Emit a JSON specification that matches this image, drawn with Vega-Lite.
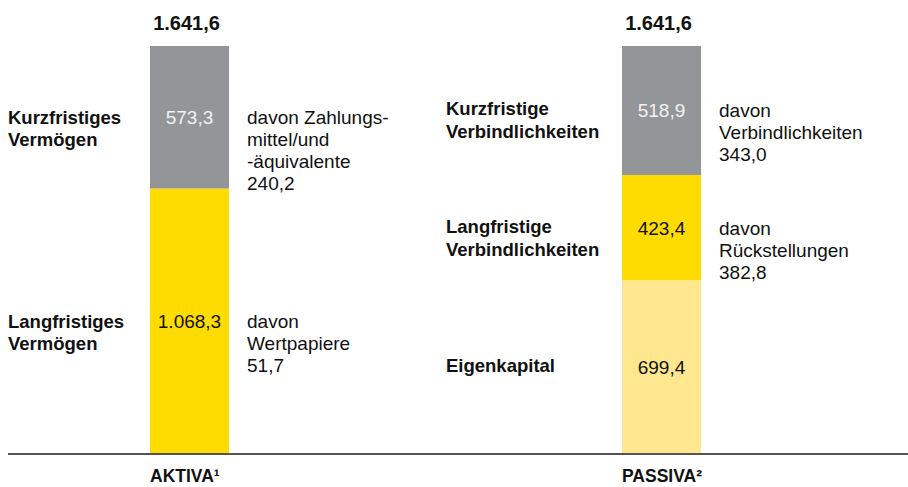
{
  "$schema": "https://vega.github.io/schema/vega-lite/v6.json",
  "width": 900,
  "height": 408,
  "autosize": {"type": "none"},
  "padding": {"left": 8, "right": 0, "top": 46, "bottom": 33},
  "background": "white",
  "config": {
    "view": {"stroke": null},
    "font": "Liberation Sans",
    "locale": {"number": {"decimal": ",", "thousands": ".", "grouping": [3], "currency": ["", " €"]}},
    "axisX": {"domain": false, "ticks": false, "tickSize": 0, "grid": false, "labelAngle": 0, "labelFontSize": 17.5, "labelFontWeight": "bold", "labelColor": "#111111", "labelAlign": "left", "labelOffset": -40, "labelPadding": 22, "labelBaseline": "middle", "labelFont": "Liberation Sans"}
  },
  "data": {
    "values": [
      {"side": "AKTIVA¹", "type": "lang", "order": 1, "name": "Langfristiges\nVermögen", "value": 1068.3, "note": "davon\nWertpapiere\n51,7"},
      {"side": "AKTIVA¹", "type": "kurz", "order": 2, "name": "Kurzfristiges\nVermögen", "value": 573.3, "note": "davon Zahlungs-\nmittel/und\n-äquivalente\n240,2"},
      {"side": "PASSIVA²", "type": "eigen", "order": 1, "name": "Eigenkapital", "value": 699.4, "note": null},
      {"side": "PASSIVA²", "type": "lang", "order": 2, "name": "Langfristige\nVerbindlichkeiten", "value": 423.4, "note": "davon\nRückstellungen\n382,8"},
      {"side": "PASSIVA²", "type": "kurz", "order": 3, "name": "Kurzfristige\nVerbindlichkeiten", "value": 518.9, "note": "davon\nVerbindlichkeiten\n343,0"}
    ]
  },
  "transform": [
    {"stack": "value", "groupby": ["side"], "sort": [{"field": "order", "order": "ascending"}], "as": ["v0", "v1"]}
  ],
  "layer": [
    {
      "mark": {"type": "bar", "size": 79},
      "encoding": {
        "x": {"field": "side", "type": "nominal", "title": null, "scale": {"type": "point", "padding": 0, "domain": ["AKTIVA¹", "PASSIVA²"], "range": [181.5, 653.5]}},
        "y": {"field": "v0", "type": "quantitative", "axis": null, "scale": {"domain": [0, 1641.7], "nice": false, "zero": true}},
        "y2": {"field": "v1"},
        "color": {"field": "type", "type": "nominal", "legend": null, "scale": {"domain": ["kurz", "lang", "eigen"], "range": ["#949599", "#FFDC00", "#FFE78F"]}}
      }
    },
    {
      "mark": {"type": "rule", "color": "#555555", "strokeWidth": 1.5},
      "encoding": {
        "y": {"datum": 0, "type": "quantitative", "axis": null, "scale": {"domain": [0, 1641.7], "nice": false, "zero": true}}
      }
    },
    {
      "transform": [
        {"fold": ["v0", "v1"], "as": ["k", "pos"]},
        {"aggregate": [{"op": "mean", "field": "pos", "as": "mid"}], "groupby": ["side", "type", "value"]}
      ],
      "mark": {"type": "text", "fontSize": 19, "align": "center", "baseline": "alphabetic", "dy": 7},
      "encoding": {
        "x": {"field": "side", "type": "nominal", "title": null, "scale": {"type": "point", "padding": 0, "domain": ["AKTIVA¹", "PASSIVA²"], "range": [181.5, 653.5]}},
        "y": {"field": "mid", "type": "quantitative", "axis": null, "scale": {"domain": [0, 1641.7], "nice": false, "zero": true}},
        "text": {"field": "value", "type": "quantitative", "format": ",.1f"},
        "color": {"condition": {"test": "datum.type === 'kurz'", "value": "#F2F2F2"}, "value": "#111111"}
      }
    },
    {
      "transform": [
        {"filter": "datum.note != null"},
        {"fold": ["v0", "v1"], "as": ["k", "pos"]},
        {"aggregate": [{"op": "mean", "field": "pos", "as": "mid"}], "groupby": ["side", "type", "note"]}
      ],
      "mark": {"type": "text", "fontSize": 19, "align": "left", "baseline": "alphabetic", "dx": 57.5, "dy": 7, "lineBreak": "\n", "lineHeight": 22, "color": "#111111"},
      "encoding": {
        "x": {"field": "side", "type": "nominal", "title": null, "scale": {"type": "point", "padding": 0, "domain": ["AKTIVA¹", "PASSIVA²"], "range": [181.5, 653.5]}},
        "y": {"field": "mid", "type": "quantitative", "axis": null, "scale": {"domain": [0, 1641.7], "nice": false, "zero": true}},
        "text": {"field": "note", "type": "nominal"}
      }
    },
    {
      "transform": [
        {"filter": {"field": "side", "equal": "AKTIVA¹"}},
        {"fold": ["v0", "v1"], "as": ["k", "pos"]},
        {"aggregate": [{"op": "mean", "field": "pos", "as": "mid"}], "groupby": ["side", "type", "name"]}
      ],
      "mark": {"type": "text", "fontSize": 18.5, "fontWeight": "bold", "align": "left", "baseline": "alphabetic", "dx": -181.5, "dy": 7, "lineBreak": "\n", "lineHeight": 22, "color": "#111111"},
      "encoding": {
        "x": {"field": "side", "type": "nominal", "title": null, "scale": {"type": "point", "padding": 0, "domain": ["AKTIVA¹", "PASSIVA²"], "range": [181.5, 653.5]}},
        "y": {"field": "mid", "type": "quantitative", "axis": null, "scale": {"domain": [0, 1641.7], "nice": false, "zero": true}},
        "text": {"field": "name", "type": "nominal"}
      }
    },
    {
      "transform": [
        {"filter": {"field": "side", "equal": "PASSIVA²"}},
        {"fold": ["v0", "v1"], "as": ["k", "pos"]},
        {"aggregate": [{"op": "mean", "field": "pos", "as": "mid"}], "groupby": ["side", "type", "name"]}
      ],
      "mark": {"type": "text", "fontSize": 18.5, "fontWeight": "bold", "align": "left", "baseline": "alphabetic", "dx": -215.5, "dy": 5, "lineBreak": "\n", "lineHeight": 23, "color": "#111111"},
      "encoding": {
        "x": {"field": "side", "type": "nominal", "title": null, "scale": {"type": "point", "padding": 0, "domain": ["AKTIVA¹", "PASSIVA²"], "range": [181.5, 653.5]}},
        "y": {"field": "mid", "type": "quantitative", "axis": null, "scale": {"domain": [0, 1641.7], "nice": false, "zero": true}},
        "text": {"field": "name", "type": "nominal"}
      }
    },
    {
      "data": {"values": [{"side": "AKTIVA¹", "total": 1641.6}, {"side": "PASSIVA²", "total": 1641.6}]},
      "mark": {"type": "text", "fontSize": 20, "fontWeight": "bold", "align": "center", "baseline": "alphabetic", "dx": -3, "dy": -16, "color": "#111111"},
      "encoding": {
        "x": {"field": "side", "type": "nominal", "title": null, "scale": {"type": "point", "padding": 0, "domain": ["AKTIVA¹", "PASSIVA²"], "range": [181.5, 653.5]}},
        "y": {"field": "total", "type": "quantitative", "axis": null, "scale": {"domain": [0, 1641.7], "nice": false, "zero": true}},
        "text": {"field": "total", "type": "quantitative", "format": ",.1f"}
      }
    }
  ]
}
